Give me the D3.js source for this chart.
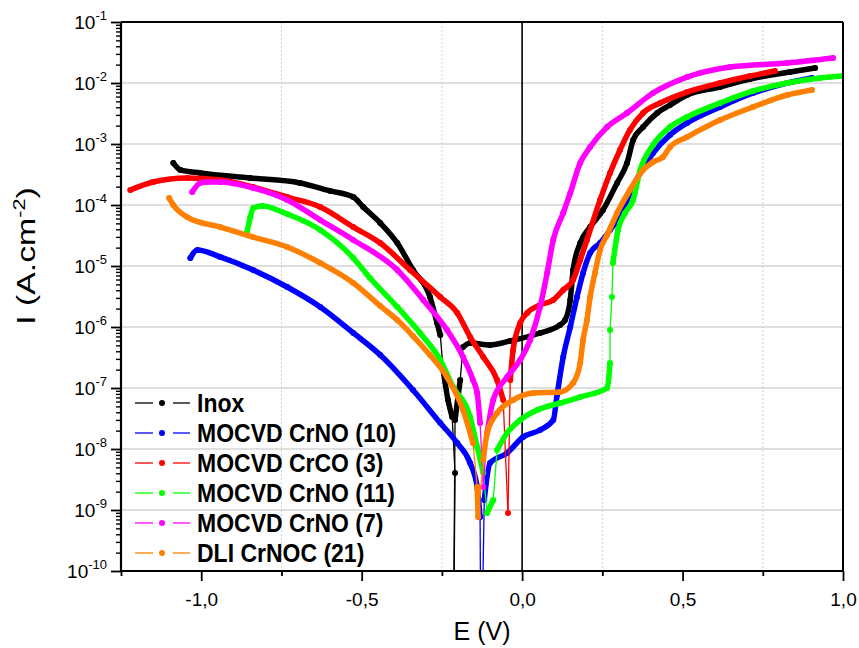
<!DOCTYPE html>
<html><head><meta charset="utf-8">
<script src="https://cdn.jsdelivr.net/npm/d3@7"></script>
<style>
html,body{margin:0;padding:0;background:#fff;}
text{font-family:"Liberation Sans",Arial,sans-serif;}
</style></head>
<body><svg id="c" width="859" height="648"></svg>
<script>
// ---- data (E in V, I in A.cm^-2) ----
const inoxE = [-1.087,-1.065,-1.003,-0.847,-0.692,-0.598,-0.526,-0.495,-0.442,-0.389,-0.340,-0.287,-0.265,-0.255,-0.246,-0.231,-0.218,-0.209,-0.215,-0.209,-0.193,-0.184,-0.162,-0.100,-0.037,0.056,0.118,0.134,0.150,0.159,0.181,0.212,0.252,0.296,0.327,0.346,0.377,0.421,0.461,0.514,0.617,0.710,0.835,0.913];
const inoxI = [4.89e-4,3.75e-4,3.35e-4,2.77e-4,2.30e-4,1.70e-4,1.35e-4,9.27e-5,5.07e-5,2.38e-5,8.59e-6,3.10e-6,1.16e-6,7.4e-7,1.97e-7,6.35e-8,3.35e-8,4.05e-9,1e-12,3.0e-8,1.35e-7,4.70e-7,5.47e-7,5.07e-7,5.9e-7,7.98e-7,1.08e-6,1.30e-6,2.77e-6,8.6e-6,2.38e-5,4.35e-5,8.28e-5,2.30e-4,4.89e-4,1.16e-3,1.90e-3,3.22e-3,4.36e-3,6.35e-3,8.59e-3,1.16e-2,1.51e-2,1.76e-2];

const crno10E = [-1.034,-1.012,-0.941,-0.838,-0.732,-0.629,-0.526,-0.442,-0.340,-0.255,-0.202,-0.162,-0.140,-0.131,-0.128,-0.118,-0.100,-0.047,0.003,0.056,0.097,0.109,0.128,0.150,0.171,0.190,0.212,0.243,0.274,0.315,0.336,0.368,0.408,0.461,0.514,0.617,0.720,0.826,0.903];
const crno10I = [1.35e-5,1.83e-5,1.41e-5,8.59e-6,4.53e-6,2.13e-6,7.98e-7,3.47e-7,9.27e-8,2.67e-8,1.25e-8,5.89e-9,2.38e-9,7.67e-10,1e-12,1.46e-9,5.89e-9,8.59e-9,1.57e-8,2.05e-8,2.98e-8,7.67e-8,3.22e-7,1.0e-6,3.10e-6,7.67e-6,1.63e-5,2.38e-5,3.89e-5,8.28e-5,1.57e-4,3.35e-4,7.11e-4,1.41e-3,2.21e-3,4.05e-3,6.86e-3,1.0e-2,1.21e-2];

const crco3E = [-1.221,-1.150,-1.044,-0.941,-0.838,-0.732,-0.629,-0.526,-0.442,-0.349,-0.255,-0.202,-0.162,-0.121,-0.078,-0.059,-0.044,-0.037,-0.028,-0.006,0.016,0.056,0.097,0.128,0.159,0.181,0.202,0.243,0.274,0.305,0.336,0.377,0.430,0.514,0.617,0.710,0.788];
const crco3I = [1.76e-4,2.38e-4,2.77e-4,2.57e-4,1.97e-4,1.35e-4,9.27e-5,4.35e-5,2.38e-5,8.59e-6,3.10e-6,1.70e-6,6.86e-7,3.22e-7,1.35e-7,6.35e-8,8.9e-10,1.35e-7,4.2e-7,1.16e-6,1.70e-6,2.30e-6,2.77e-6,4.05e-6,5.89e-6,1.25e-5,2.67e-5,1.21e-4,3.35e-4,7.98e-4,1.70e-3,3.22e-3,4.70e-3,7.11e-3,1.0e-2,1.30e-2,1.57e-2];

const crno11E = [-0.857,-0.847,-0.838,-0.810,-0.732,-0.629,-0.526,-0.474,-0.389,-0.318,-0.255,-0.215,-0.162,-0.140,-0.121,-0.109,-0.090,-0.078,-0.047,-0.006,0.047,0.118,0.181,0.265,0.274,0.274,0.280,0.283,0.299,0.321,0.346,0.368,0.408,0.461,0.514,0.617,0.720,0.826,0.928,1.0];
const crno11I = [3.61e-5,6.35e-5,8.93e-5,9.64e-5,7.11e-5,3.89e-5,1.35e-5,6.35e-6,2.13e-6,7.98e-7,2.88e-7,1.04e-7,3.35e-8,1.08e-8,4.05e-9,8.93e-10,1.46e-9,9.64e-9,1.83e-8,2.98e-8,4.35e-8,5.67e-8,7.11e-8,1.0e-7,2.57e-7,8.93e-7,3.10e-6,1.12e-5,3.89e-5,7.40e-5,1.21e-4,3.75e-4,9.64e-4,1.90e-3,2.77e-3,4.70e-3,7.40e-3,1.0e-2,1.21e-2,1.30e-2];

const crno7E = [-1.028,-1.003,-0.981,-0.941,-0.838,-0.732,-0.629,-0.526,-0.389,-0.308,-0.234,-0.184,-0.153,-0.140,-0.131,-0.121,-0.109,-0.090,-0.047,-0.006,0.025,0.056,0.078,0.097,0.128,0.150,0.181,0.212,0.265,0.327,0.408,0.514,0.648,0.826,0.969];
const crno7I = [1.63e-4,2.30e-4,2.38e-4,2.38e-4,1.90e-4,1.21e-4,5.67e-5,2.67e-5,8.59e-6,2.77e-6,8.93e-7,3.22e-7,1.35e-7,8.28e-8,2.67e-8,2.38e-9,1.83e-8,6.35e-8,1.51e-7,2.88e-7,6.12e-7,2.13e-6,7.67e-6,2.67e-5,7.40e-5,1.57e-4,4.89e-4,8.93e-4,1.90e-3,3.22e-3,6.86e-3,1.25e-2,1.83e-2,2.13e-2,2.57e-2];

const crnoc21E = [-1.100,-1.087,-1.044,-0.941,-0.838,-0.732,-0.629,-0.526,-0.442,-0.389,-0.340,-0.287,-0.234,-0.184,-0.153,-0.140,-0.137,-0.121,-0.109,-0.078,-0.028,0.034,0.118,0.159,0.181,0.190,0.202,0.212,0.227,0.243,0.265,0.296,0.336,0.377,0.408,0.439,0.461,0.514,0.617,0.720,0.826,0.903];
const crnoc21I = [1.30e-4,1.0e-4,6.35e-5,4.35e-5,2.98e-5,2.05e-5,1.12e-5,5.26e-6,2.21e-6,1.30e-6,7.11e-7,3.47e-7,1.51e-7,4.35e-8,1.25e-8,2.38e-9,7.67e-10,6.61e-9,1.83e-8,3.89e-8,6.35e-8,8.28e-8,8.59e-8,1.21e-7,2.57e-7,6.12e-7,1.30e-6,3.10e-6,7.67e-6,1.83e-5,3.22e-5,7.40e-5,1.76e-4,3.75e-4,5.07e-4,6.12e-4,8.93e-4,1.30e-3,2.47e-3,4.05e-3,6.35e-3,7.67e-3];

const seriesNames = ["Inox","MOCVD CrNO (10)","MOCVD CrCO (3)","MOCVD CrNO (11)","MOCVD CrNO (7)","DLI CrNOC (21)"];
const seriesColors = ["#000000","#0000ff","#ff0000","#00ff00","#ff00ff","#ff8000"];
const seriesE = [inoxE, crno10E, crco3E, crno11E, crno7E, crnoc21E];
const seriesI = [inoxI, crno10I, crco3I, crno11I, crno7I, crnoc21I];

const xTickValues = [-1.0,-0.5,0.0,0.5,1.0];
const xTickLabels = ["-1,0","-0,5","0,0","0,5","1,0"];
const xMinorValues = [-1.25,-0.75,-0.25,0.25,0.75];
const yExponents = [-10,-9,-8,-7,-6,-5,-4,-3,-2,-1];

// ---- layout ----
const L=121, R=843, T=22, B=571;
const svg = d3.select("#c");
const x = d3.scaleLinear().domain([-1.25,1.0]).range([L,R]);
const y = d3.scaleLog().domain([1e-10,1e-1]).range([B,T]);

// gridlines
const g = svg.append("g");
yExponents.filter(e=>e>-10 && e<-1).forEach(e=>{
  g.append("line").attr("x1",L).attr("x2",R).attr("y1",y(Math.pow(10,e))).attr("y2",y(Math.pow(10,e)))
   .attr("stroke","#d4d4d4").attr("stroke-width",1.6);
});
xMinorValues.filter(v=>v>-1.25).forEach(v=>{
  g.append("line").attr("x1",x(v)).attr("x2",x(v)).attr("y1",T).attr("y2",B)
   .attr("stroke","#cfcfcf").attr("stroke-width",1).attr("stroke-dasharray","2,2");
});
g.append("line").attr("x1",x(0)).attr("x2",x(0)).attr("y1",T).attr("y2",B).attr("stroke","#000").attr("stroke-width",1.6);

// clip
svg.append("defs").append("clipPath").attr("id","clip").append("rect")
  .attr("x",L).attr("y",T).attr("width",R-L).attr("height",B-T);
const plot = svg.append("g").attr("clip-path","url(#clip)");
const smoothMono = d3.line().curve(d3.curveMonotoneX);
const smoothCR = d3.line().curve(d3.curveCatmullRom.alpha(0.5));

seriesE.forEach((E,si)=>{
  const I = seriesI[si];
  const pts = E.map((e,i)=>[x(e), y(I[i])]);
  const col = seriesColors[si];
  const sg = plot.append("g");
  let run=[pts[0]];
  const flush=()=>{
    if(run.length<2) return;
    let mono=true; for(let k=1;k<run.length;k++) if(run[k][0]<=run[k-1][0]) mono=false;
    sg.append("path").attr("d",(mono?smoothMono:smoothCR)(run)).attr("fill","none")
      .attr("stroke",col).attr("stroke-width",5.5).attr("stroke-linecap","round").attr("stroke-linejoin","round");
  };
  for(let i=0;i<pts.length-1;i++){
    const a=pts[i], b=pts[i+1];
    const dy=Math.abs(b[1]-a[1]), dx=Math.abs(b[0]-a[0]);
    const thin = dy>32 && dy/(dx+0.01)>8;
    if(thin){
      flush(); run=[b];
      sg.append("line").attr("x1",a[0]).attr("y1",a[1]).attr("x2",b[0]).attr("y2",b[1])
        .attr("stroke",col).attr("stroke-width",1.3);
    } else run.push(b);
  }
  flush();
  sg.selectAll("circle").data(pts).join("circle")
    .attr("cx",d=>d[0]).attr("cy",d=>d[1]).attr("r",3).attr("fill",col);
});

// frame
svg.append("line").attr("x1",L).attr("x2",R).attr("y1",T).attr("y2",T).attr("stroke","#000").attr("stroke-width",2);
svg.append("line").attr("x1",R).attr("x2",R).attr("y1",T).attr("y2",B).attr("stroke","#000").attr("stroke-width",2);

// x axis
const xAxis = d3.axisBottom(x).tickValues(xTickValues).tickFormat((d,i)=>xTickLabels[i]).tickSize(10).tickPadding(12);
const xg = svg.append("g").attr("transform",`translate(0,${B})`).call(xAxis);
xg.select(".domain").attr("stroke-width",2.2).attr("d",`M${L},0H${R}`);
xg.selectAll(".tick line").attr("stroke-width",1.8);
xg.selectAll(".tick text").attr("font-size",19).attr("font-family",'"Liberation Sans",Arial,sans-serif').attr("fill","#000");
const xMinor = d3.axisBottom(x).tickValues(xMinorValues).tickFormat("").tickSize(5);
const xmg = svg.append("g").attr("transform",`translate(0,${B})`).call(xMinor);
xmg.select(".domain").remove();
xmg.selectAll(".tick line").attr("stroke-width",1.8);

// y axis
const yAxis = d3.axisLeft(y).tickValues(yExponents.map(e=>Math.pow(10,e))).tickFormat("").tickSize(10);
const yg = svg.append("g").attr("transform",`translate(${L},0)`).call(yAxis);
yg.select(".domain").attr("stroke-width",2.2).attr("d",`M0,${T}V${B}`);
yg.selectAll(".tick line").attr("stroke-width",1.8);
const minorVals=[];
yExponents.slice(0,-1).forEach(e=>{for(let m=2;m<=9;m++) minorVals.push(m*Math.pow(10,e));});
const yMinor = d3.axisLeft(y).tickValues(minorVals).tickFormat("").tickSize(5);
const ymg = svg.append("g").attr("transform",`translate(${L},0)`).call(yMinor);
ymg.select(".domain").remove();
ymg.selectAll(".tick line").attr("stroke-width",1.4);

// y tick labels with superscript
yExponents.forEach(e=>{
  const t = svg.append("text").attr("x",107).attr("y",y(Math.pow(10,e))+7)
    .attr("text-anchor","end").attr("font-size",19).attr("fill","#000");
  t.append("tspan").text("10");
  t.append("tspan").attr("font-size",13).attr("dy",-9).text(String(e));
});

// axis titles
svg.append("text").attr("x",(L+R)/2).attr("y",640).attr("text-anchor","middle")
  .attr("font-size",25).attr("fill","#000").text("E (V)");
const yl = svg.append("text").attr("transform","translate(35,256) rotate(-90) scale(1.35,1)")
  .attr("text-anchor","middle").attr("font-size",25).attr("fill","#000");
yl.append("tspan").text("I (A.cm");
yl.append("tspan").attr("font-size",16).attr("dy",-10).text("-2");
yl.append("tspan").attr("dy",10).text(")");

// legend
const lg = svg.append("g");
seriesNames.forEach((n,i)=>{
  const cy = 403 + i*30;
  const col = seriesColors[i];
  lg.append("line").attr("x1",135).attr("x2",153).attr("y1",cy).attr("y2",cy).attr("stroke",col).attr("stroke-width",1.3);
  lg.append("line").attr("x1",173).attr("x2",190).attr("y1",cy).attr("y2",cy).attr("stroke",col).attr("stroke-width",1.3);
  lg.append("circle").attr("cx",162).attr("cy",cy).attr("r",3).attr("fill",col);
  lg.append("text").attr("transform",`translate(197,${cy+9}) scale(1,1.12)`).attr("font-size",23)
    .attr("font-weight","bold").attr("fill","#000").text(n);
});
</script></body></html>
